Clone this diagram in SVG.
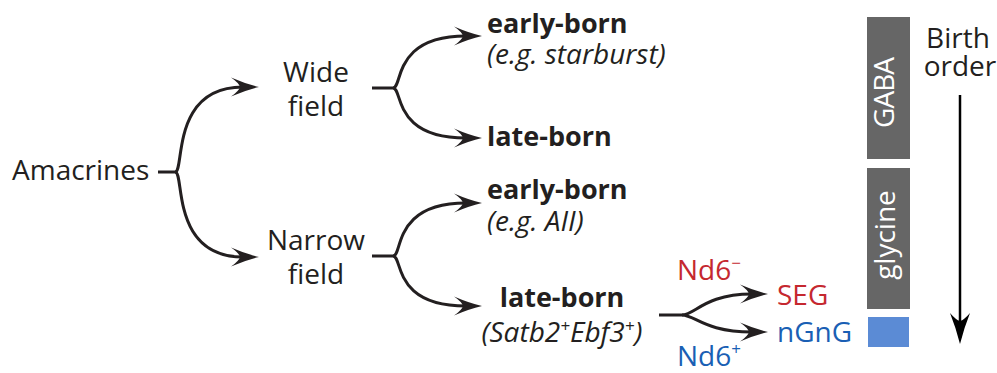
<svg xmlns="http://www.w3.org/2000/svg" width="997" height="373" viewBox="0 0 997 373">
<style>
text{font-family:"Open Sans","Noto Sans",sans-serif;fill:#231f20;font-size:27px}
.reg{font-size:28px}
.b{font-weight:700}
.i{font-style:italic;font-size:28px}
.c{text-anchor:middle}
.red{fill:#c5282f}
.blue{fill:#1a5fb4}
.w{fill:#ffffff;font-size:28px}
.conn path{fill:none;stroke:#231f20;stroke-width:3}
</style>
<defs>
<marker id="ah" markerUnits="userSpaceOnUse" markerWidth="30" markerHeight="20" viewBox="0 -10 30 20" refX="12" refY="0" orient="auto" overflow="visible">
<path d="M28,0 Q15,-3 0,-9.5 Q8,-4 9,0 Q8,4 0,9.5 Q15,3 28,0Z" fill="#231f20"/>
</marker>
</defs>
<rect width="997" height="373" fill="#ffffff"/>
<g id="connectors" class="conn">
<path d="M158,172 H175 C185,172 170,87 243,87" marker-end="url(#ah)"/>
<path d="M175,172 C185,172 170,257 243,257" marker-end="url(#ah)"/>
<path d="M372,88 H393 C403,88 392,36 466,36" marker-end="url(#ah)"/>
<path d="M393,88 C403,88 392,138 466,138" marker-end="url(#ah)"/>
<path d="M372,256 H393 C403,256 392,203 466,203" marker-end="url(#ah)"/>
<path d="M393,256 C403,256 392,306 466,306" marker-end="url(#ah)"/>
<path d="M659,315 H682 C695,315 705,294 752,294" marker-end="url(#ah)"/>
<path d="M682,315 C695,315 705,332 752,332" marker-end="url(#ah)"/>
</g>
<g id="amacrines"><text class="reg" x="12" y="180">Amacrines</text></g>
<g id="wide-field"><text class="reg c" x="316" y="82">Wide</text><text class="reg c" x="316" y="116">field</text></g>
<g id="narrow-field"><text class="reg c" x="316" y="250">Narrow</text><text class="reg c" x="316" y="284">field</text></g>
<g id="wide-early"><text class="b" x="487" y="33">early-born</text><text class="i" x="487" y="64">(e.g. starburst)</text></g>
<g id="wide-late"><text class="b" x="487" y="146">late-born</text></g>
<g id="narrow-early"><text class="b" x="487" y="199">early-born</text><text class="i" x="487" y="231">(e.g. AII)</text></g>
<g id="narrow-late"><text class="b c" x="562" y="307">late-born</text><text class="i c" x="562" y="342">(Satb2<tspan dy="-10" font-size="17">+</tspan><tspan dy="10">Ebf3</tspan><tspan dy="-10" font-size="17">+</tspan><tspan dy="10">)</tspan></text></g>
<g id="nd6-minus"><text class="reg red" x="677" y="280">Nd6<tspan dy="-11" font-size="17">−</tspan></text></g>
<g id="nd6-plus"><text class="reg blue" x="677" y="366">Nd6<tspan dy="-11" font-size="17">+</tspan></text></g>
<g id="seg"><text class="reg red" x="777" y="305">SEG</text></g>
<g id="ngng"><text class="reg blue" x="777" y="342">nGnG</text></g>
<g id="gaba"><rect x="867" y="17" width="43" height="142" fill="#666666"/><text class="w c" transform="translate(894,92.5) rotate(-90)" x="0" y="0" textLength="71" lengthAdjust="spacing">GABA</text></g>
<g id="glycine"><rect x="867" y="168" width="43" height="141" fill="#666666"/><text class="w c" transform="translate(895,235) rotate(-90)" x="0" y="0">glycine</text></g>
<g id="ngng-box"><rect x="868" y="317" width="41" height="30" fill="#5b8bd5"/></g>
<g id="birth-order"><text class="reg c" x="958" y="48">Birth</text><text class="reg c" x="960" y="76">order</text>
<path d="M960,95 V322" stroke="#000000" stroke-width="2.5" fill="none"/>
<path d="M960,344 Q956,328 950,313 Q956,320 960,321 Q964,320 970,313 Q964,328 960,344Z" fill="#000000"/></g>
</svg>
